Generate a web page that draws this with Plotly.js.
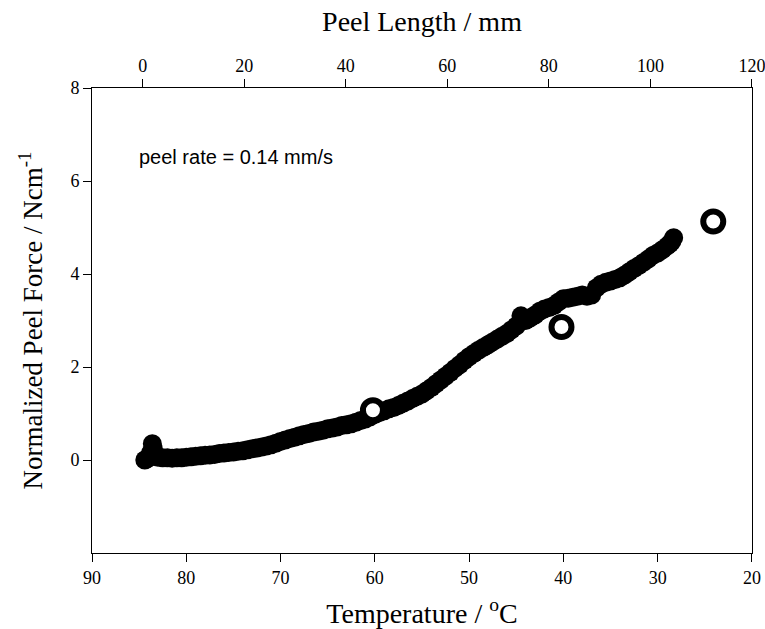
<!DOCTYPE html>
<html>
<head>
<meta charset="utf-8">
<script src="https://cdn.plot.ly/plotly-3.0.1.min.js"></script>
<style>html,body{margin:0;padding:0;background:#fff;}#chart{width:765px;height:629px;}</style>
</head>
<body>
<div id="chart"></div>
<script>
// Measured peel data (filled markers)
var temperature = [84.4, 84.2, 84.0, 83.8, 83.6, 83.5, 83.3, 83.0, 82.5, 82.0, 81.5, 81.0, 80.5, 80.0,
  79.5, 79.0, 78.5, 78.0, 77.5, 77.0, 76.5, 76.0, 75.5, 75.0, 74.5, 74.0, 73.5, 73.0, 72.5, 72.0,
  71.5, 71.0, 70.5, 70.0, 69.5, 69.0, 68.5, 68.0, 67.5, 67.0, 66.5, 66.0, 65.5, 65.0, 64.5, 64.0,
  63.5, 63.0, 62.5, 62.0, 61.5, 61.0, 60.5, 60.0, 59.5, 59.0, 58.5, 58.0, 57.5, 57.0, 56.5, 56.0,
  55.5, 55.0, 54.5, 54.0, 53.5, 53.0, 52.5, 52.0, 51.5, 51.0, 50.5, 50.0, 49.5, 49.0, 48.5, 48.0,
  47.5, 47.0, 46.5, 46.0, 45.5, 45.0, 44.5, 44.2, 44.0, 43.5, 43.0, 42.5, 42.0, 41.5, 41.0, 40.5,
  40.0, 39.5, 39.0, 38.5, 38.0, 37.5, 37.0, 36.5, 36.0, 35.5, 35.0, 34.5, 34.0, 33.5, 33.0, 32.5,
  32.0, 31.5, 31.0, 30.5, 30.0, 29.5, 29.0, 28.7, 28.5, 28.3];
var peelForce = [0.0, 0.02, 0.05, 0.15, 0.35, 0.25, 0.1, 0.06, 0.05, 0.05, 0.04, 0.05, 0.05, 0.06,
  0.07, 0.08, 0.09, 0.1, 0.11, 0.12, 0.14, 0.15, 0.16, 0.17, 0.19, 0.2, 0.22, 0.24, 0.26, 0.28,
  0.3, 0.33, 0.36, 0.4, 0.43, 0.46, 0.49, 0.52, 0.55, 0.57, 0.6, 0.62, 0.64, 0.67, 0.69, 0.71,
  0.74, 0.76, 0.78, 0.81, 0.85, 0.88, 0.93, 0.98, 1.02, 1.06, 1.1, 1.13, 1.17, 1.22, 1.27, 1.32,
  1.37, 1.42, 1.49, 1.56, 1.64, 1.72, 1.8, 1.88, 1.97, 2.05, 2.14, 2.22, 2.29, 2.36, 2.42, 2.48,
  2.54, 2.6, 2.66, 2.72, 2.8, 2.88, 3.1, 3.02, 3.0, 3.06, 3.12, 3.2, 3.25, 3.28, 3.32, 3.4,
  3.47, 3.48, 3.5, 3.52, 3.55, 3.52, 3.55, 3.7, 3.78, 3.82, 3.85, 3.88, 3.92, 3.98, 4.05, 4.12,
  4.18, 4.25, 4.32, 4.4, 4.45, 4.52, 4.6, 4.65, 4.7, 4.78];

// Open markers
var openTemperature = [60.2, 40.2, 24.1];
var openForce = [1.07, 2.86, 5.13];

// Axis ticks
var tempTicks = [90, 80, 70, 60, 50, 40, 30, 20];
var lengthTicks = [0, 20, 40, 60, 80, 100, 120];
var forceTicks = [0, 2, 4, 6, 8];

var serif = "Liberation Serif, Times New Roman, serif";

var traces = [
  {
    x: temperature, y: peelForce, type: 'scatter', mode: 'markers',
    marker: {symbol: 'circle', size: 19, color: '#000', line: {width: 0}},
    hoverinfo: 'skip', showlegend: false
  },
  {
    x: openTemperature, y: openForce, type: 'scatter', mode: 'markers',
    marker: {symbol: 'circle', size: 20, color: '#fff', line: {width: 6, color: '#000'}},
    hoverinfo: 'skip', showlegend: false
  },
  {
    x: [], y: [], xaxis: 'x2', type: 'scatter', mode: 'markers', showlegend: false, hoverinfo: 'skip'
  }
];

var layout = {
  width: 765, height: 629,
  margin: {l: 92, r: 13, t: 88, b: 76, pad: 0},
  paper_bgcolor: '#fff', plot_bgcolor: '#fff',
  showlegend: false,
  font: {family: serif, size: 18, color: '#000'},
  xaxis: {
    range: [90, 19.99], tickvals: tempTicks, ticktext: tempTicks.map(String),
    ticks: 'outside', ticklen: 8, tickwidth: 1, tickcolor: '#000',
    showline: true, linecolor: '#000', linewidth: 1, mirror: false,
    showgrid: false, zeroline: false, ticklabeloverflow: 'allow',
    tickfont: {family: serif, size: 18, color: '#000'},
    title: {text: 'Temperature / <sup>o</sup>C', font: {family: serif, size: 28, color: '#000'}, standoff: 18}
  },
  xaxis2: {
    overlaying: 'x', side: 'top', anchor: 'y',
    range: [-10, 120.02], tickvals: lengthTicks, ticktext: lengthTicks.map(String),
    ticks: 'outside', ticklen: 8, tickwidth: 1, tickcolor: '#000',
    showline: true, linecolor: '#000', linewidth: 1,
    showgrid: false, zeroline: false, ticklabeloverflow: 'allow',
    tickfont: {family: serif, size: 18, color: '#000'},
    title: {text: 'Peel Length / mm', font: {family: serif, size: 28, color: '#000'}, standoff: 15}
  },
  yaxis: {
    range: [-2, 8], tickvals: forceTicks, ticktext: forceTicks.map(String),
    ticks: 'outside', ticklen: 8, tickwidth: 1, tickcolor: '#000',
    showline: true, linecolor: '#000', linewidth: 1, mirror: true,
    showgrid: false, zeroline: false,
    tickfont: {family: serif, size: 18, color: '#000'},
    title: {text: 'Normalized Peel Force / Ncm<sup>-1</sup>', font: {family: serif, size: 27, color: '#000'}, standoff: 19}
  },
  annotations: [
    {
      text: 'peel rate = 0.14 mm/s', xref: 'paper', yref: 'paper',
      x: 0.068, y: 0.852, xanchor: 'left', yanchor: 'middle', showarrow: false,
      font: {family: 'Liberation Sans, Arial, sans-serif', size: 20, color: '#000'}
    }
  ]
};

Plotly.newPlot('chart', traces, layout, {displayModeBar: false, staticPlot: true});
</script>
</body>
</html>
